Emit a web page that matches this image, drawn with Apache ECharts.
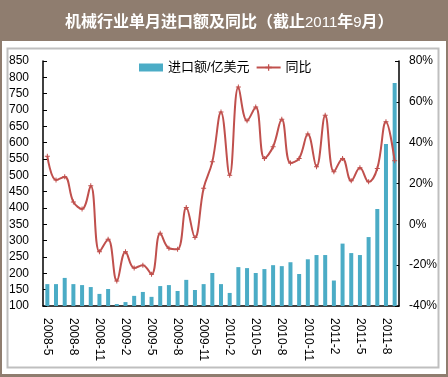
<!DOCTYPE html>
<html>
<head>
<meta charset="utf-8">
<script src="https://cdn.jsdelivr.net/npm/echarts@6/dist/echarts.min.js"></script>
<style>
  html, body { margin: 0; padding: 0; background: #8f7d6f; }
  #chart { width: 448px; height: 377px; }
</style>
</head>
<body>
<div id="chart"></div>
<script>
// 2008-5 .. 2011-9
const months = [
  '2008-5', '2008-6', '2008-7', '2008-8', '2008-9', '2008-10', '2008-11', '2008-12',
  '2009-1', '2009-2', '2009-3', '2009-4', '2009-5', '2009-6', '2009-7', '2009-8',
  '2009-9', '2009-10', '2009-11', '2009-12', '2010-1', '2010-2', '2010-3', '2010-4',
  '2010-5', '2010-6', '2010-7', '2010-8', '2010-9', '2010-10', '2010-11', '2010-12',
  '2011-1', '2011-2', '2011-3', '2011-4', '2011-5', '2011-6', '2011-7', '2011-8', '2011-9'
]
// 进口额 亿美元
const imports = [
  167, 167, 186, 167, 164, 158, 137, 152, 106, 112, 131, 143, 128, 161, 164, 146,
  180, 149, 167, 201, 167, 140, 219, 216, 201, 213, 225, 222, 234, 198, 243, 256,
  256, 178, 291, 262, 256, 311, 397, 596, 783
]
// 同比 %
const yoy = [
  33.4, 21.7, 23.3, 11, 7.5, 18.9, -13.4, -7.3, -27.7, -13.4, -21.4, -20, -24.5, -4.4, -11.7, -12.2,
  8.2, -6.5, 17.7, 30.6, 55, 24.1, 67.3, 50.7, 57.5, 32.3, 38, 51.5, 30, 32.3, 44.2, 28.2,
  53.4, 25.7, 32.3, 21.3, 27.7, 20.8, 27.4, 50.2, 31.1
]

const font = 'Arial, "Liberation Sans", "Noto Sans CJK SC", sans-serif'
const chart = echarts.init(document.getElementById('chart'))

chart.setOption({
  animation: false,
  textStyle: { fontFamily: font },
  graphic: [
    { type: 'rect', z: -10, shape: { x: 2, y: 41, width: 444, height: 333 }, style: { fill: '#fff' } },
    { type: 'rect', z: -9, shape: { x: 7.5, y: 48.5, width: 431, height: 319 }, style: { fill: 'none', stroke: '#bfbfbf', lineWidth: 2 } }
  ],
  title: {
    text: '机械行业单月进口额及同比（截止{n|2011}年{n|9}月）',
    left: 60,
    top: 10,
    textStyle: {
      color: '#fff', fontSize: 16, fontWeight: 'bold', fontFamily: font,
      rich: { n: { color: '#fff', fontSize: 15, fontWeight: 'normal', fontFamily: font } }
    }
  },
  legend: {
    left: 134,
    top: 56,
    itemGap: 6,
    itemWidth: 24,
    itemHeight: 8,
    textStyle: { fontSize: 13, color: '#000' },
    data: [
      { name: '进口额/亿美元', icon: 'rect' },
      { name: '同比' }
    ]
  },
  grid: { left: 43, right: 49, top: 61, bottom: 71 },
  xAxis: {
    type: 'category',
    data: months,
    axisLine: { onZero: false, lineStyle: { color: '#000', width: 1.5 } },
    axisTick: { inside: true, length: 4, lineStyle: { color: '#000' } },
    axisLabel: { interval: 2, rotate: -90, margin: 12, fontSize: 12, color: '#000' }
  },
  yAxis: [
    {
      type: 'value',
      min: 100,
      max: 850,
      interval: 50,
      splitLine: { show: false },
      axisLine: { show: true, lineStyle: { color: '#000', width: 1.5 } },
      axisTick: { show: true, inside: true, length: 4, lineStyle: { color: '#000' } },
      axisLabel: { margin: 14, fontSize: 12, color: '#000' }
    },
    {
      type: 'value',
      min: -40,
      max: 80,
      interval: 20,
      splitLine: { show: false },
      axisLine: { show: true, lineStyle: { color: '#000', width: 1.5 } },
      axisTick: { show: true, inside: true, length: 4, lineStyle: { color: '#000' } },
      axisLabel: { margin: 10, fontSize: 12, color: '#000', formatter: '{value}%' }
    }
  ],
  series: [
    {
      name: '进口额/亿美元',
      type: 'bar',
      data: imports,
      barWidth: 4,
      itemStyle: { color: '#4bacc6' }
    },
    {
      name: '同比',
      type: 'line',
      yAxisIndex: 1,
      data: yoy,
      smooth: 0.4,
      symbol: 'path://M4,0h2v4h4v2h-4v4h-2v-4h-4v-2h4z',
      symbolSize: 5,
      lineStyle: { color: '#c0504d', width: 2 },
      itemStyle: { color: '#c0504d' }
    }
  ]
})
</script>
</body>
</html>
